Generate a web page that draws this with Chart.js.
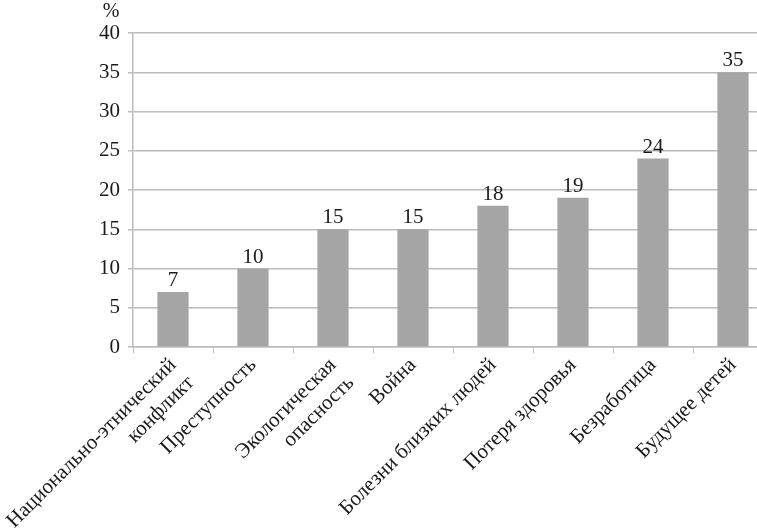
<!DOCTYPE html>
<html>
<head>
<meta charset="utf-8">
<script src="https://cdn.jsdelivr.net/npm/chart.js@4"></script>
<style>
    html, body { margin: 0; padding: 0; background: #fff; }
    #wrap { width: 757px; height: 529px; overflow: hidden; position: relative; }
    #box { width: 776px; height: 529px; position: absolute; left: 0; top: 0; }
</style>
</head>
<body>
<div id="wrap"><div id="box"><canvas id="chart"></canvas></div></div>
<script>
// Chart data
const categories = [
    ["Национально-этнический", "конфликт"],
    "Преступность",
    ["Экологическая", "опасность"],
    "Война",
    "Болезни близких людей",
    "Потеря здоровья",
    "Безработица",
    "Будущее детей"
];
const values = [7, 10, 15, 15, 18, 19, 24, 35];
const yTicks = [0, 5, 10, 15, 20, 25, 30, 35, 40];
const unitLabel = "%";

const FONT = "'Liberation Serif', 'Times New Roman', serif";
const gridColor = "#bcbcbc";

// Draw values above bars and the unit label over the axis
const labelsPlugin = {
    id: 'barLabels',
    afterDatasetsDraw(chart) {
        const ctx = chart.ctx;
        const meta = chart.getDatasetMeta(0);
        ctx.save();
        ctx.font = "21px " + FONT;
        ctx.fillStyle = "#1a1a1a";
        ctx.textAlign = "center";
        ctx.textBaseline = "alphabetic";
        meta.data.forEach((bar, i) => {
            ctx.fillText(values[i], bar.x, bar.y - 6);
        });
        ctx.font = "20px " + FONT;
        ctx.fillText(unitLabel, 111, 17);
        ctx.restore();
    }
};

const ctx = document.getElementById('chart').getContext('2d');
new Chart(ctx, {
    type: 'bar',
    data: {
        labels: categories,
        datasets: [{
            data: values,
            backgroundColor: "#a5a5a5",
            borderWidth: 0,
            barPercentage: 0.39,
            categoryPercentage: 1
        }]
    },
    options: {
        responsive: true,
        maintainAspectRatio: false,
        animation: false,
        layout: { padding: { top: 33, right: 3, left: 0, bottom: 0 } },
        plugins: {
            legend: { display: false },
            tooltip: { enabled: false }
        },
        scales: {
            x: {
                offset: true,
                grid: {
                    offset: true,
                    drawOnChartArea: false,
                    drawTicks: true,
                    tickLength: 6,
                    color: gridColor
                },
                border: { color: gridColor, width: 1.5 },
                ticks: {
                    font: { family: FONT, size: 21, lineHeight: 1.2 },
                    color: "#1a1a1a",
                    maxRotation: 45,
                    minRotation: 45,
                    autoSkip: false,
                    padding: 0
                },
                afterFit(scale) { scale.height = 182; }
            },
            y: {
                min: 0,
                max: 40,
                afterBuildTicks(scale) { scale.ticks = yTicks.map(v => ({ value: v })); },
                grid: {
                    color: gridColor,
                    lineWidth: 1.5,
                    tickLength: 5
                },
                border: { color: gridColor, width: 1.5 },
                ticks: {
                    font: { family: FONT, size: 21 },
                    color: "#1a1a1a",
                    padding: 8
                },
                afterFit(scale) { scale.width = 133; }
            }
        }
    },
    plugins: [labelsPlugin]
});
</script>
</body>
</html>
